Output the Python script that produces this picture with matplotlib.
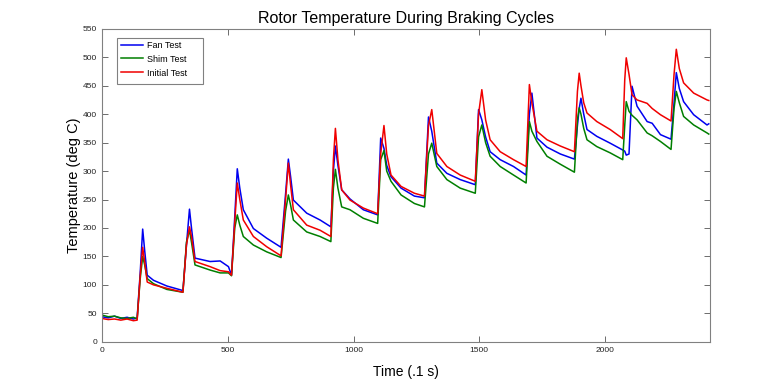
import matplotlib
matplotlib.use("Agg")
import matplotlib.pyplot as plt
from matplotlib.patches import Rectangle
import numpy as np

plt.rcParams["font.family"] = ["Liberation Sans", "DejaVu Sans"]

# time samples (.1 s) and temperatures (deg C)
time = [
    0, 25, 50, 75, 100, 125, 140,
    152, 162, 170, 180, 205, 258, 322,
    336, 348, 356, 370, 430, 470, 503, 515,
    528, 538, 548, 562, 602, 655, 712,
    730, 741, 750, 761, 814, 867, 910,
    920, 928, 938, 953, 986, 1039, 1096,
    1108, 1121, 1132, 1149, 1189, 1242, 1282,
    1298, 1311, 1331, 1371, 1424, 1484,
    1497, 1510, 1525, 1543, 1583, 1636, 1686,
    1699, 1709, 1729, 1769, 1822, 1878,
    1890, 1897, 1904, 1915, 1928, 1967, 2020, 2070,
    2078, 2084, 2095, 2107, 2127, 2167, 2187, 2220, 2262,
    2274, 2283, 2295, 2312, 2352, 2405, 2412,
]

fan_test = [
    44, 42, 45, 41, 43, 40, 42,
    120, 198, 160, 117, 108, 98, 90,
    170, 233, 200, 147, 141, 142, 132, 117,
    220, 304, 270, 232, 199, 182, 166,
    260, 321, 290, 249, 226, 214, 202,
    300, 344, 310, 267, 251, 232, 223,
    358, 340, 310, 290, 270, 256, 253,
    395, 370, 314, 296, 285, 276,
    408, 390, 360, 334, 320, 308, 293,
    400, 437, 358, 342, 330, 321,
    380, 410, 428, 400, 373, 361, 349, 337,
    335, 328, 330, 449, 414, 387, 384, 364, 356,
    420, 473, 445, 422, 399, 381, 383,
]

shim_test = [
    47, 44, 45, 42, 41, 43, 40,
    110, 150, 135, 111, 102, 92, 87,
    175, 196, 175, 135, 126, 121, 121, 116,
    200, 223, 205, 185, 170, 158, 148,
    230, 258, 240, 214, 193, 185, 176,
    270, 303, 270, 237, 232, 217, 208,
    320, 336, 300, 282, 258, 243, 237,
    330, 349, 308, 285, 270, 261,
    360, 381, 350, 326, 308, 293, 279,
    387, 370, 352, 326, 312, 298,
    390, 411, 400, 375, 355, 343, 332, 320,
    380, 422, 405, 398, 390, 367, 362, 352, 338,
    410, 440, 420, 396, 381, 367, 365,
]

initial_test = [
    41, 39, 40, 38, 40, 37, 38,
    115, 166, 140, 105, 100, 94, 87,
    170, 202, 185, 141, 132, 125, 123, 117,
    210, 279, 250, 214, 185, 167, 151,
    250, 314, 275, 232, 205, 196, 185,
    320, 375, 320, 267, 249, 235, 225,
    330, 380, 330, 293, 273, 261, 256,
    380, 408, 331, 308, 293, 282,
    400, 443, 390, 355, 334, 320, 308,
    452, 420, 370, 355, 344, 334,
    440, 472, 450, 420, 402, 387, 373, 357,
    460, 499, 470, 434, 425, 419, 410, 399, 388,
    470, 514, 480, 455, 437, 425, 424,
]

fig = plt.figure(figsize=(7.84, 3.84), dpi=100)
ax = fig.add_axes([0.13, 0.11, 0.775, 0.815])

ax.plot(time, fan_test, color="#0000f0", lw=1.1, label="Fan Test")
ax.plot(time, shim_test, color="#007f00", lw=1.1, label="Shim Test")
ax.plot(time, initial_test, color="#f00000", lw=1.1, label="Initial Test")

ax.set_xlim(0, 2415)
ax.set_ylim(0, 550)
ax.set_xticks(np.arange(0, 2001, 500))
ax.set_yticks(np.arange(0, 551, 50))
ax.tick_params(direction="in", length=4, width=0.6, labelsize=6,
               top=True, right=True, colors="#555555", labelcolor="#222222")
for s in ax.spines.values():
    s.set_color("#808080")
    s.set_linewidth(0.8)

ax.set_title("Rotor Temperature During Braking Cycles", fontsize=11.5, pad=4.5)
ax.set_xlabel("Time (.1 s)", fontsize=10, labelpad=8)
ax.set_ylabel("Temperature (deg C)", fontsize=10.5, labelpad=1)

# matlab-like legend: frame drawn separately, extra room on the right
ax.add_patch(Rectangle((0.0244, 0.8235), 0.1425, 0.1481, transform=ax.transAxes,
                       facecolor="white", edgecolor="#808080", lw=0.8, zorder=4))
leg = ax.legend(loc="upper left", bbox_to_anchor=(0.031, 0.962), fontsize=6.5,
                frameon=False, borderaxespad=0, borderpad=0,
                handlelength=2.5, handletextpad=0.4, labelspacing=0.55)
leg.set_zorder(5)

fig.savefig("out.png", dpi=100, facecolor="white")
